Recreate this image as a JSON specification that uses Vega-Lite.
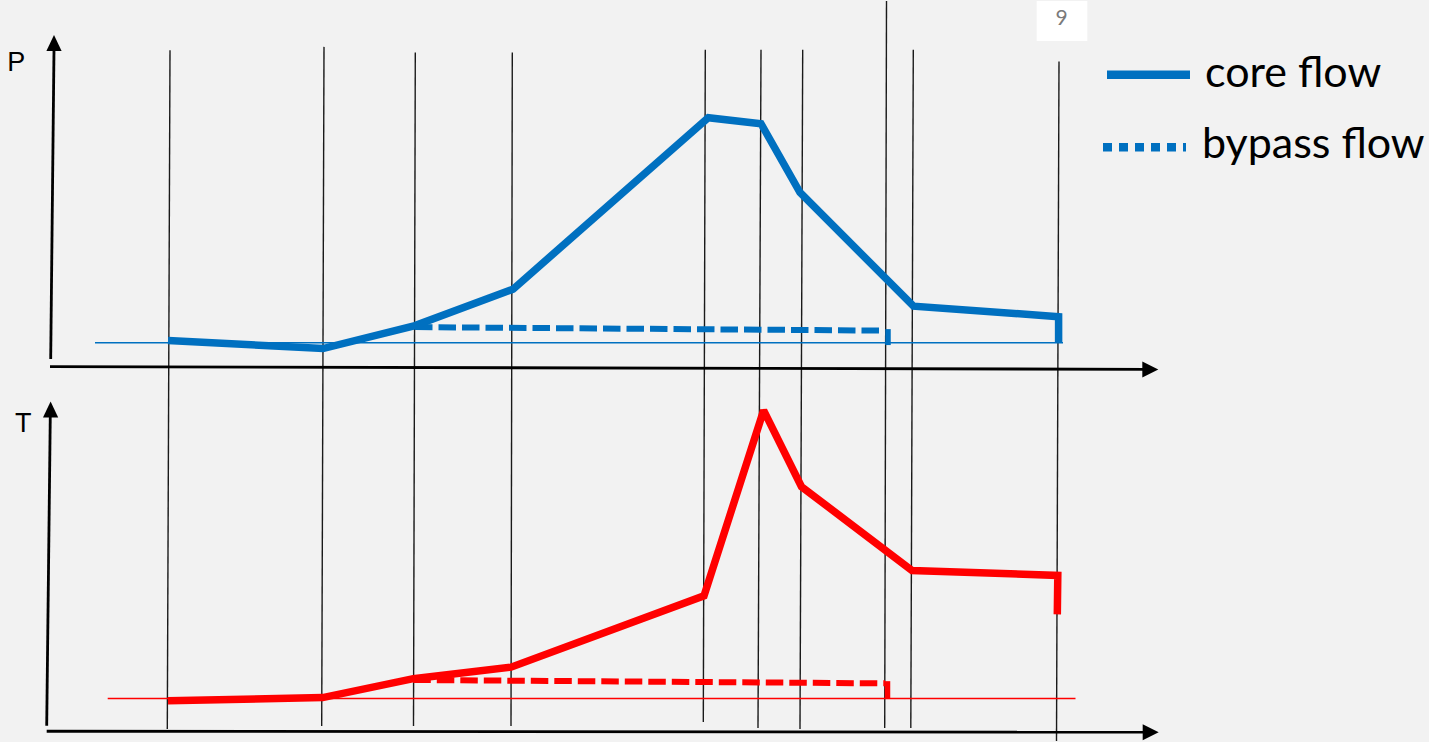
{
  "$schema": "https://vega.github.io/schema/vega-lite/v6.json",
  "width": 1429,
  "height": 742,
  "autosize": {"type": "fit", "contains": "padding"},
  "padding": 0,
  "background": "#f2f2f2",
  "config": {"view": {"stroke": null}},
  "datasets": {
    "guides": [
      {"x": 170, "y": 49.5, "x2": 167.3, "y2": 730},
      {"x": 324, "y": 46, "x2": 321.7, "y2": 727},
      {"x": 415.3, "y": 51.7, "x2": 413.5, "y2": 727},
      {"x": 512.3, "y": 51.7, "x2": 511, "y2": 727},
      {"x": 705.3, "y": 49, "x2": 703.3, "y2": 723},
      {"x": 761, "y": 49, "x2": 758, "y2": 729},
      {"x": 802.7, "y": 49, "x2": 800, "y2": 730},
      {"x": 886.5, "y": 0, "x2": 884.7, "y2": 729},
      {"x": 913.3, "y": 49, "x2": 910.8, "y2": 729},
      {"x": 1059, "y": 60.7, "x2": 1056.5, "y2": 742}
    ],
    "axes": [
      {"x": 50.7, "y": 359, "x2": 54, "y2": 48},
      {"x": 50, "y": 366.6, "x2": 1146, "y2": 369.3},
      {"x": 46.7, "y": 726.7, "x2": 50.3, "y2": 414},
      {"x": 46.7, "y": 732.2, "x2": 1145, "y2": 733.2}
    ],
    "arrows": [
      {"x": 54, "y": 42, "dir": "up"},
      {"x": 1150.3, "y": 369.6, "dir": "right"},
      {"x": 50.6, "y": 409.7, "dir": "up"},
      {"x": 1150.7, "y": 733.3, "dir": "right"}
    ],
    "baselines": [
      {"q": "P", "x": 95, "x2": 1063, "y": 342.7},
      {"q": "T", "x": 107.7, "x2": 1075.5, "y": 699.3}
    ],
    "core": [
      {"q": "P", "i": 1, "x": 168, "y": 340.5},
      {"q": "P", "i": 2, "x": 323, "y": 348.5},
      {"q": "P", "i": 3, "x": 415, "y": 325.5},
      {"q": "P", "i": 4, "x": 513, "y": 289},
      {"q": "P", "i": 5, "x": 708.3, "y": 117},
      {"q": "P", "i": 6, "x": 761, "y": 123},
      {"q": "P", "i": 7, "x": 800, "y": 192},
      {"q": "P", "i": 8, "x": 913.5, "y": 306},
      {"q": "P", "i": 9, "x": 1058.6, "y": 316.5},
      {"q": "P", "i": 10, "x": 1058.6, "y": 342.5},
      {"q": "T", "i": 1, "x": 168, "y": 701.7},
      {"q": "T", "i": 2, "x": 322.7, "y": 698.5},
      {"q": "T", "i": 3, "x": 413.3, "y": 679.5},
      {"q": "T", "i": 4, "x": 511, "y": 668},
      {"q": "T", "i": 5, "x": 704, "y": 596.5},
      {"q": "T", "i": 6, "x": 763.6, "y": 410.5},
      {"q": "T", "i": 7, "x": 801.5, "y": 487},
      {"q": "T", "i": 8, "x": 912, "y": 571},
      {"q": "T", "i": 9, "x": 1057.8, "y": 576},
      {"q": "T", "i": 10, "x": 1057.3, "y": 615}
    ],
    "bypass": [
      {"q": "P", "i": 1, "x": 415, "y": 327},
      {"q": "P", "i": 2, "x": 885, "y": 330.5},
      {"q": "T", "i": 1, "x": 413.3, "y": 680.8},
      {"q": "T", "i": 2, "x": 885, "y": 684.2}
    ],
    "ends": [
      {"q": "P", "x": 888, "y": 329, "y2": 345},
      {"q": "T", "x": 887.5, "y": 682, "y2": 699.5}
    ],
    "legend": [
      {"label": "core flow", "x": 1107, "x2": 1190, "y": 74, "tx": 1205, "ty": 86},
      {"label": "bypass flow", "x": 1103, "x2": 1186, "y": 146.7, "tx": 1202, "ty": 157}
    ],
    "labels": [
      {"text": "P", "x": 16.3, "y": 70},
      {"text": "T", "x": 23.3, "y": 431.7}
    ],
    "page": [
      {"x": 1036.7, "x2": 1087.3, "y": 0, "y2": 40, "text": "9", "tx": 1061.7, "ty": 24.3}
    ]
  },
  "layer": [
    {
      "data": {"name": "page"},
      "mark": {"type": "rect", "fill": "#ffffff", "stroke": null},
      "encoding": {
        "x": {"field": "x", "type": "quantitative", "scale": {"domain": [0, 1429], "nice": false, "zero": false}, "axis": null},
        "x2": {"field": "x2"},
        "y": {"field": "y", "type": "quantitative", "scale": {"domain": [0, 742], "nice": false, "zero": false, "reverse": true}, "axis": null},
        "y2": {"field": "y2"}
      }
    },
    {
      "data": {"name": "page"},
      "mark": {"type": "text", "font": "Lato", "fontSize": 21, "color": "#7a7a7a", "align": "center", "baseline": "alphabetic"},
      "encoding": {
        "x": {"field": "tx", "type": "quantitative", "axis": null},
        "y": {"field": "ty", "type": "quantitative", "axis": null},
        "text": {"field": "text"}
      }
    },
    {
      "data": {"name": "guides"},
      "mark": {"type": "rule", "color": "#1a1a1a", "strokeWidth": 1.4},
      "encoding": {
        "x": {"field": "x", "type": "quantitative", "axis": null},
        "y": {"field": "y", "type": "quantitative", "axis": null},
        "x2": {"field": "x2"},
        "y2": {"field": "y2"}
      }
    },
    {
      "data": {"name": "baselines"},
      "mark": {"type": "rule", "strokeWidth": 1.5},
      "encoding": {
        "x": {"field": "x", "type": "quantitative", "axis": null},
        "x2": {"field": "x2"},
        "y": {"field": "y", "type": "quantitative", "axis": null},
        "color": {"field": "q", "type": "nominal", "scale": {"domain": ["P", "T"], "range": ["#0070c0", "#ff0000"]}, "legend": null}
      }
    },
    {
      "data": {"name": "bypass"},
      "mark": {"type": "line", "strokeWidth": 6, "strokeDash": [17.5, 6], "strokeCap": "butt"},
      "encoding": {
        "x": {"field": "x", "type": "quantitative", "axis": null},
        "y": {"field": "y", "type": "quantitative", "axis": null},
        "order": {"field": "i", "type": "quantitative"},
        "color": {"field": "q", "type": "nominal", "legend": null}
      }
    },
    {
      "data": {"name": "ends"},
      "mark": {"type": "rule", "strokeWidth": 5.5, "strokeCap": "butt"},
      "encoding": {
        "x": {"field": "x", "type": "quantitative", "axis": null},
        "y": {"field": "y", "type": "quantitative", "axis": null},
        "y2": {"field": "y2"},
        "color": {"field": "q", "type": "nominal", "legend": null}
      }
    },
    {
      "data": {"name": "core"},
      "mark": {"type": "line", "strokeWidth": 7.5, "strokeCap": "butt", "strokeJoin": "miter", "strokeMiterLimit": 2},
      "encoding": {
        "x": {"field": "x", "type": "quantitative", "axis": null},
        "y": {"field": "y", "type": "quantitative", "axis": null},
        "order": {"field": "i", "type": "quantitative"},
        "color": {"field": "q", "type": "nominal", "legend": null}
      }
    },
    {
      "data": {"name": "axes"},
      "mark": {"type": "rule", "color": "#000000", "strokeWidth": 2.8},
      "encoding": {
        "x": {"field": "x", "type": "quantitative", "axis": null},
        "y": {"field": "y", "type": "quantitative", "axis": null},
        "x2": {"field": "x2"},
        "y2": {"field": "y2"}
      }
    },
    {
      "data": {"name": "arrows"},
      "mark": {"type": "point", "filled": true, "color": "#000000", "opacity": 1, "size": 256, "strokeWidth": 0},
      "encoding": {
        "x": {"field": "x", "type": "quantitative", "axis": null},
        "y": {"field": "y", "type": "quantitative", "axis": null},
        "shape": {"field": "dir", "type": "nominal", "scale": {"domain": ["up", "right"], "range": ["M0,-1L0.95,1L-0.95,1Z", "M1,0L-1,-1L-1,1Z"]}, "legend": null}
      }
    },
    {
      "data": {"name": "legend"},
      "mark": {"type": "rule", "color": "#0070c0", "strokeWidth": 8.5, "strokeCap": "butt"},
      "encoding": {
        "x": {"field": "x", "type": "quantitative", "axis": null},
        "x2": {"field": "x2"},
        "y": {"field": "y", "type": "quantitative", "axis": null},
        "strokeDash": {"field": "label", "type": "nominal", "scale": {"domain": ["core flow", "bypass flow"], "range": [[1, 0], [9, 7]]}, "legend": null}
      }
    },
    {
      "data": {"name": "legend"},
      "mark": {"type": "text", "font": "Lato", "fontSize": 43, "color": "#000000", "align": "left", "baseline": "alphabetic"},
      "encoding": {
        "x": {"field": "tx", "type": "quantitative", "axis": null},
        "y": {"field": "ty", "type": "quantitative", "axis": null},
        "text": {"field": "label"}
      }
    },
    {
      "data": {"name": "labels"},
      "mark": {"type": "text", "font": "Liberation Sans", "fontSize": 27, "color": "#000000", "align": "center", "baseline": "alphabetic"},
      "encoding": {
        "x": {"field": "x", "type": "quantitative", "axis": null},
        "y": {"field": "y", "type": "quantitative", "axis": null},
        "text": {"field": "text"}
      }
    }
  ]
}
